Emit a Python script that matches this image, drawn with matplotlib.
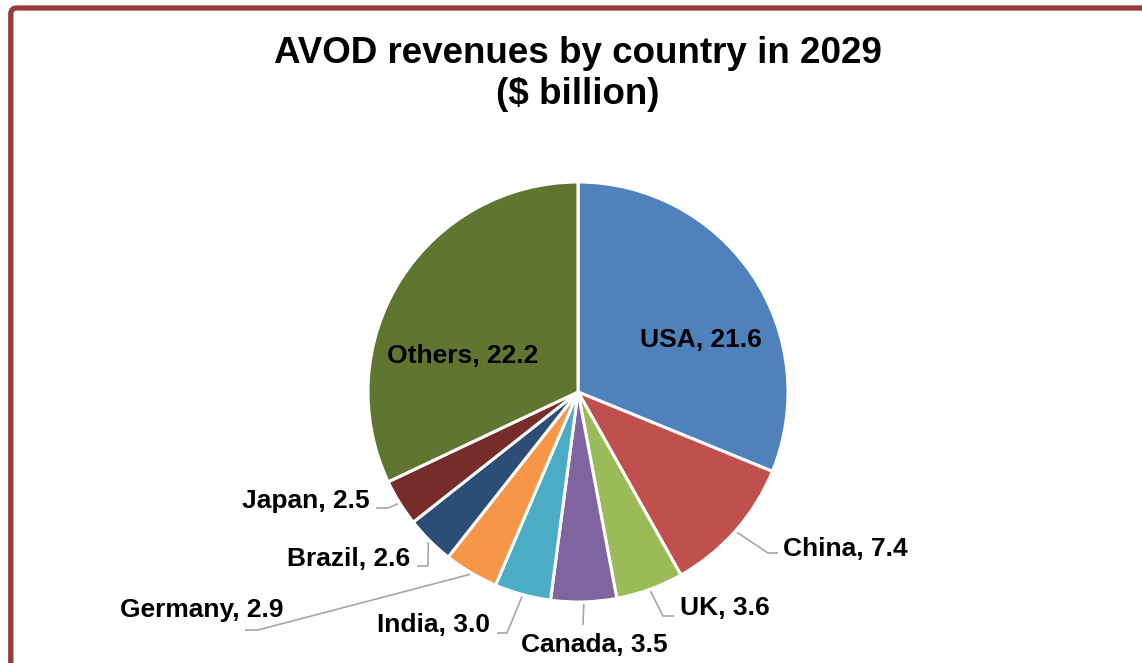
import numpy as np
import matplotlib.pyplot as plt
from matplotlib.patches import FancyBboxPatch

plt.rcParams['font.family'] = ['Liberation Sans', 'DejaVu Sans']

# AVOD revenues 2029, $ billion
countries = ['USA', 'China', 'UK', 'Canada', 'India', 'Germany', 'Brazil', 'Japan', 'Others']
revenues = [21.6, 7.4, 3.6, 3.5, 3.0, 2.9, 2.6, 2.5, 22.2]
colors = ['#4F81BD', '#C0504D', '#9BBB59', '#8064A2', '#4BACC6',
          '#F79646', '#2C4D75', '#772C2A', '#5F7530']

W, H = 1142, 663
cx, cy, R = 578, 392, 210   # pie centre / radius in pixels (y from top)

# label placement: (x, baseline y, ha, leader points after the wedge edge), pixels from top-left
label_pos = {
    'USA':     (701, 347, 'center', None),
    'Others':  (463, 363, 'center', None),
    'China':   (783, 556, 'left',  [(768, 553), (778, 553)]),
    'UK':      (680, 615, 'left',  [(663, 616), (674, 616)]),
    'Canada':  (594, 652, 'center', [(583, 625)]),
    'India':   (490, 632, 'right', [(507, 633), (497, 633)]),
    'Germany': (283, 617, 'right', [(258, 630), (245, 630)]),
    'Brazil':  (410, 566, 'right', [(428, 566), (417, 566)]),
    'Japan':   (370, 508, 'right', [(388, 508), (376, 508)]),
}

fig = plt.figure(figsize=(W / 100, H / 100), dpi=100)
ax = fig.add_axes([0, 0, 1, 1])

wedges, _ = ax.pie(revenues, colors=colors, startangle=90, counterclock=False,
                   center=(cx, H - cy), radius=R,
                   wedgeprops=dict(edgecolor='white', linewidth=2.2))
ax.set_xlim(0, W)
ax.set_ylim(0, H)
ax.set_aspect('equal')
ax.axis('off')

for w, name, val in zip(wedges, countries, revenues):
    x, yb, ha, pts = label_pos[name]
    if pts:
        mid = np.deg2rad((w.theta1 + w.theta2) / 2)
        xs = [cx + (R + 2) * np.cos(mid)] + [p[0] for p in pts]
        ys = [H - cy + (R + 2) * np.sin(mid)] + [H - p[1] for p in pts]
        ax.plot(xs, ys, color='#A6A6A6', lw=1.2, solid_capstyle='butt', zorder=1)
    ax.text(x, H - yb, f'{name}, {val:.1f}', ha=ha, va='baseline',
            fontsize=19, fontweight='bold', color='black')

ax.text(578, H - 74, 'AVOD revenues by country in 2029\n($ billion)', ha='center',
        va='center', fontsize=26.5, fontweight='bold', linespacing=1.2)

# chart area frame, open to the right and bottom
frame = FancyBboxPatch((10.8, -50), W + 60, H - 8 + 50,
                       boxstyle='round,pad=0,rounding_size=6',
                       fill=False, edgecolor='#9A3A37', linewidth=3.8, zorder=0)
ax.add_patch(frame)

fig.savefig('out.png', dpi=100)
